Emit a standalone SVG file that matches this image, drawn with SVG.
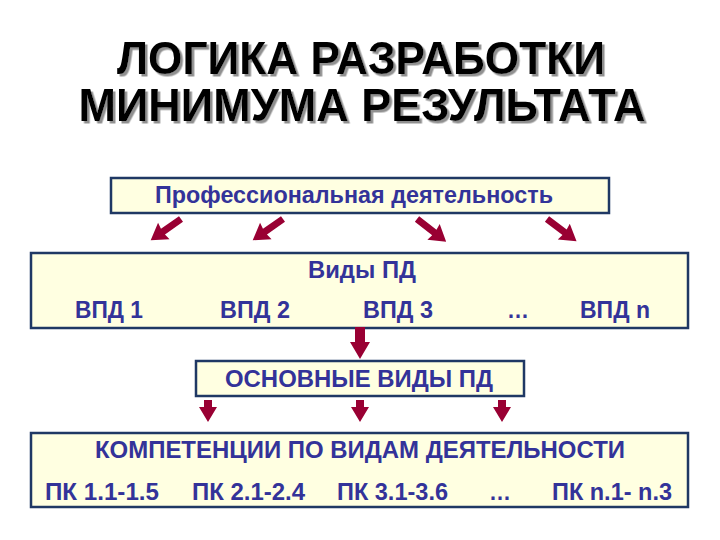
<svg xmlns="http://www.w3.org/2000/svg" width="720" height="540" viewBox="0 0 720 540">
<defs>
<style>
.title{font-family:"Liberation Sans",Arial,sans-serif;font-weight:bold;font-size:46px;text-anchor:middle;fill:#000000}
.t{font-family:"Liberation Sans",Arial,sans-serif;font-weight:bold;font-size:23px;fill:#333399}
.box{fill:#FFFFE1;stroke:#1F3864;stroke-width:2.5}
.arr{fill:#990033}
</style>
<filter id="shadow" x="-5%" y="-20%" width="110%" height="140%">
<feDropShadow dx="2.5" dy="2.5" stdDeviation="0.6" flood-color="#909090" flood-opacity="1"/>
</filter>
<polygon id="diag" points="0,-3.5 22,-3.5 21,-10 37,0 21,10 22,3.5 0,3.5"/>
<polygon id="down" points="-4,0 4,0 4,7 9,7 0,22 -9,7 -4,7"/>
</defs>
<rect width="720" height="540" fill="#FFFFFF"/>
<g id="title" filter="url(#shadow)">
<text class="title" x="361" y="74" textLength="488" lengthAdjust="spacingAndGlyphs">ЛОГИКА РАЗРАБОТКИ</text>
<text class="title" x="362" y="121" textLength="567" lengthAdjust="spacingAndGlyphs">МИНИМУМА РЕЗУЛЬТАТА</text>
</g>
<g id="node-pd">
<rect class="box" x="111" y="178" width="498" height="35"/>
<text class="t" x="354" y="203" text-anchor="middle" textLength="398" lengthAdjust="spacingAndGlyphs">Профессиональная деятельность</text>
</g>
<g id="node-vpd">
<rect class="box" x="31" y="253" width="657" height="75"/>
<text class="t" x="362" y="278" text-anchor="middle" textLength="108" lengthAdjust="spacingAndGlyphs">Виды ПД</text>
<text class="t" x="75" y="318" textLength="68" lengthAdjust="spacingAndGlyphs">ВПД 1</text>
<text class="t" x="220" y="318" textLength="70" lengthAdjust="spacingAndGlyphs">ВПД 2</text>
<text class="t" x="363" y="318" textLength="70" lengthAdjust="spacingAndGlyphs">ВПД 3</text>
<text class="t" x="507" y="318" textLength="22" lengthAdjust="spacingAndGlyphs">…</text>
<text class="t" x="580" y="318" textLength="70" lengthAdjust="spacingAndGlyphs">ВПД n</text>
</g>
<g id="node-main">
<rect class="box" x="196" y="361" width="328" height="35"/>
<text class="t" x="359" y="387" text-anchor="middle" textLength="268" lengthAdjust="spacingAndGlyphs">ОСНОВНЫЕ ВИДЫ ПД</text>
</g>
<g id="node-pk">
<rect class="box" x="31" y="433" width="657" height="74"/>
<text class="t" x="360" y="458" text-anchor="middle" textLength="530" lengthAdjust="spacingAndGlyphs">КОМПЕТЕНЦИИ ПО ВИДАМ ДЕЯТЕЛЬНОСТИ</text>
<text class="t" x="45" y="500" textLength="114" lengthAdjust="spacingAndGlyphs">ПК 1.1-1.5</text>
<text class="t" x="192" y="500" textLength="113" lengthAdjust="spacingAndGlyphs">ПК 2.1-2.4</text>
<text class="t" x="337" y="500" textLength="111" lengthAdjust="spacingAndGlyphs">ПК 3.1-3.6</text>
<text class="t" x="489" y="500" textLength="22" lengthAdjust="spacingAndGlyphs">…</text>
<text class="t" x="552" y="500" textLength="120" lengthAdjust="spacingAndGlyphs">ПК n.1- n.3</text>
</g>
<g id="connectors" class="arr">
<use href="#diag" transform="translate(181,219) rotate(145)"/>
<use href="#diag" transform="translate(283,219) rotate(145)"/>
<use href="#diag" transform="translate(417,219) rotate(38)"/>
<use href="#diag" transform="translate(547,219) rotate(37)"/>
<polygon points="355,327 365,327 365,342 370,342 360,359 350,342 355,342"/>
<use href="#down" transform="translate(208,400)"/>
<use href="#down" transform="translate(360,400)"/>
<use href="#down" transform="translate(502,400)"/>
</g>
</svg>
